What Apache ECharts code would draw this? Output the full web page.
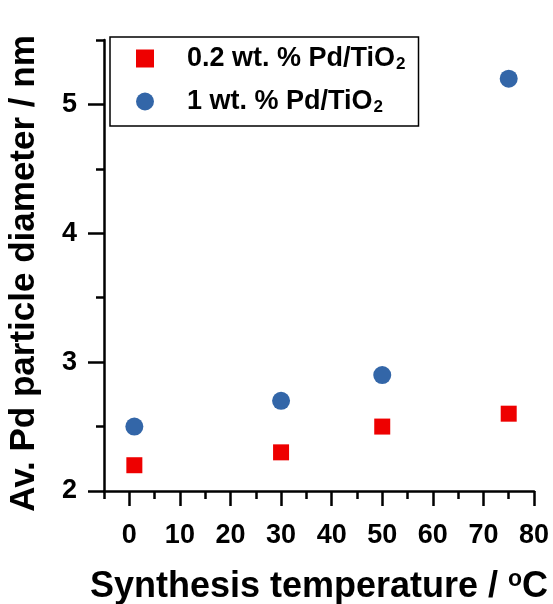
<!DOCTYPE html>
<html>
<head>
<meta charset="utf-8">
<script src="https://cdn.jsdelivr.net/npm/echarts@6/dist/echarts.min.js"></script>
<style>html,body{margin:0;padding:0;background:#fff;}#c{width:553px;height:604px;}</style>
</head>
<body>
<div id="c"></div>
<script>
const temperatures = [1, 30, 50, 75];
const diam02 = [2.2, 2.3, 2.5, 2.6];
const diam1 = [2.5, 2.7, 2.9, 5.2];
const seriesNames = ['0.2 wt. % Pd/TiO2', '1 wt. % Pd/TiO2'];
const xMajorTicks = [0, 10, 20, 30, 40, 50, 60, 70, 80];
const xMinorTicks = [-5, 5, 15, 25, 35, 45, 55, 65, 75];
const yMajorTicks = [2, 3, 4, 5];
const yMinorTicks = [2.5, 3.5, 4.5, 5.5];
const xTitle = 'Synthesis temperature / {sup|o}C';
const yTitle = 'Av. Pd particle diameter / nm';

const FONT = '"Liberation Sans", Arial, sans-serif';
const chart = echarts.init(document.getElementById('c'), null, {renderer: 'canvas'});
const axisLineStyle = {color: '#000', width: 2.5};
const option = {
  animation: false,
  backgroundColor: '#fff',
  grid: {left: 104, right: 19, top: 40, bottom: 113, containLabel: false, outerBoundsMode: 'none'},
  legend: {
    orient: 'vertical',
    left: 110, top: 37,
    padding: [8, 13, 10, 26],
    borderColor: '#000', borderWidth: 1.5,
    itemWidth: 18, itemHeight: 18, itemGap: 15,
    data: seriesNames,
    formatter: function (n) { return '{t|' + n.replace(/2$/, '') + '}{sub|2}'; },
    textStyle: {
      fontFamily: FONT, fontWeight: 'bold', fontSize: 27, color: '#000',
      rich: {
        t: {fontFamily: FONT, fontWeight: 'bold', fontSize: 27, color: '#000', padding: [0, 0, 0, 28]},
        sub: {fontFamily: FONT, fontWeight: 'bold', fontSize: 17, color: '#000', padding: [12, 0, 0, 1]}
      }
    }
  },
  xAxis: [{
    type: 'value', min: -5, max: 80, position: 'bottom',
    name: xTitle, nameLocation: 'middle', nameGap: 77,
    nameTextStyle: {
      fontFamily: FONT, fontWeight: 'bold', fontSize: 36, color: '#000',
      rich: {sup: {fontFamily: FONT, fontWeight: 'bold', fontSize: 23, color: '#000', padding: [0, 0, 16, 0]}}
    },
    axisLine: {show: true, onZero: false, lineStyle: axisLineStyle},
    axisTick: {show: true, inside: false, length: 15, lineStyle: axisLineStyle, customValues: xMajorTicks},
    axisLabel: {show: true, margin: 31, fontFamily: FONT, fontWeight: 'bold', fontSize: 27, color: '#000', customValues: xMajorTicks},
    splitLine: {show: false}
  }, {
    type: 'value', min: -5, max: 80, position: 'bottom', gridIndex: 0,
    axisLine: {show: false, onZero: false},
    axisTick: {show: true, inside: false, length: 8, lineStyle: axisLineStyle, customValues: xMinorTicks},
    axisLabel: {show: false},
    splitLine: {show: false}
  }],
  yAxis: [{
    type: 'value', min: 2, max: 5.5, position: 'left',
    name: yTitle, nameLocation: 'middle', nameGap: 62, nameRotate: 90,
    nameTextStyle: {fontFamily: FONT, fontWeight: 'bold', fontSize: 35, color: '#000', padding: [0, 16, 0, 0]},
    axisLine: {show: true, onZero: false, lineStyle: axisLineStyle},
    axisTick: {show: true, inside: false, length: 16, lineStyle: axisLineStyle, customValues: yMajorTicks},
    axisLabel: {show: true, margin: 27, fontFamily: FONT, fontWeight: 'bold', fontSize: 27, color: '#000', customValues: yMajorTicks},
    splitLine: {show: false}
  }, {
    type: 'value', min: 2, max: 5.5, position: 'left', gridIndex: 0,
    axisLine: {show: false, onZero: false},
    axisTick: {show: true, inside: false, length: 8, lineStyle: axisLineStyle, customValues: yMinorTicks},
    axisLabel: {show: false},
    splitLine: {show: false}
  }],
  series: [{
    name: seriesNames[0], type: 'scatter', symbol: 'rect', symbolSize: 16,
    itemStyle: {color: '#ee0000', opacity: 1},
    data: temperatures.map((t, i) => [t, diam02[i]])
  }, {
    name: seriesNames[1], type: 'scatter', symbol: 'circle', symbolSize: 18,
    itemStyle: {color: '#3366a8', opacity: 1},
    data: temperatures.map((t, i) => [t, diam1[i]])
  }]
};
chart.setOption(option);
</script>
</body>
</html>
